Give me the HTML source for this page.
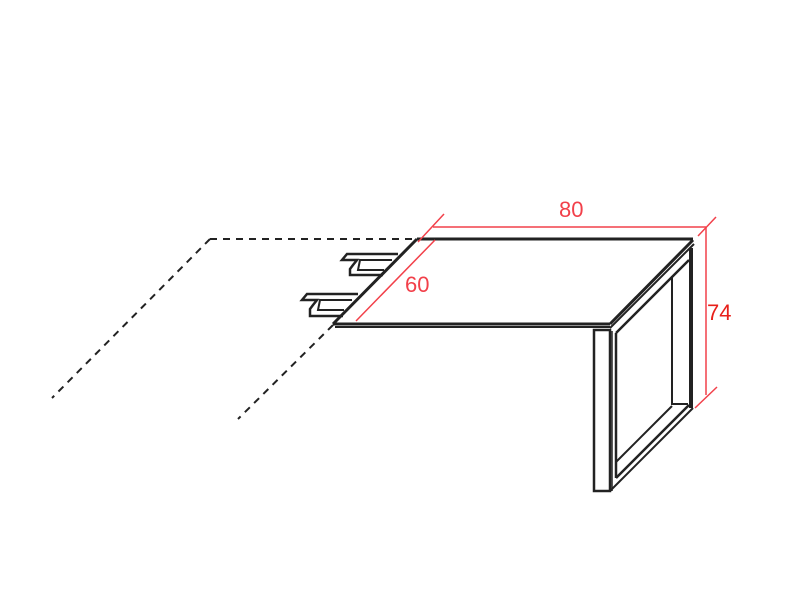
<!DOCTYPE html>
<html><head><style>body{margin:0;background:#fff}svg{display:block}</style></head><body>
<svg width="800" height="600" viewBox="0 0 800 600" xmlns="http://www.w3.org/2000/svg">
<g fill="none" stroke="#222" stroke-width="2" stroke-dasharray="7,6">
<line x1="210" y1="239" x2="417" y2="239"/>
<line x1="210" y1="239" x2="52" y2="398"/>
<line x1="333" y1="325" x2="238" y2="419"/>
</g>
<g fill="none" stroke="#222" stroke-width="3" stroke-linejoin="miter">
<line x1="417" y1="239" x2="693" y2="239"/>
<line x1="417" y1="239" x2="333" y2="324"/>
<line x1="333" y1="324" x2="610" y2="324"/>
<line x1="335" y1="327" x2="610" y2="327" stroke-width="2"/>
<line x1="610" y1="324" x2="693" y2="240"/>
<line x1="610" y1="328" x2="694" y2="244" stroke-width="2"/>
<polyline points="398,254 347,254 342,260 357,260 353,265 350,269 350,275 383,275" stroke-width="2.5"/>
<polyline points="392,260 360,260 358,270 384,270" stroke-width="2"/>
<polyline points="358,294 307,294 302,300 317,300 313,305 310,309 310,316 343,316" stroke-width="2.5"/>
<polyline points="352,300 320,300 318,310 344,310" stroke-width="2"/>
<rect x="594" y="330" width="16" height="161" stroke-width="2.5"/>
<line x1="610" y1="491" x2="693" y2="408" stroke-width="2"/>
<line x1="691" y1="248" x2="691" y2="408" stroke-width="4"/>
<line x1="616" y1="333" x2="616" y2="478" stroke-width="2.5"/>
<line x1="616" y1="333" x2="689" y2="260" stroke-width="2.5"/>
<line x1="616" y1="478" x2="689" y2="405" stroke-width="2.5"/>
<line x1="616" y1="462" x2="672" y2="406" stroke-width="2"/>
<line x1="672" y1="276" x2="672" y2="405" stroke-width="2"/>
<line x1="672" y1="404" x2="688" y2="404" stroke-width="2"/>
<line x1="612" y1="331" x2="612" y2="491" stroke-width="1.5"/>
</g>
<g stroke="#f2404a" stroke-width="1.5" fill="none">
<line x1="433" y1="227" x2="706" y2="227"/>
<line x1="418" y1="242" x2="444" y2="214"/>
<line x1="698" y1="236" x2="716" y2="217"/>
<line x1="706" y1="227" x2="706" y2="395"/>
<line x1="695" y1="408" x2="717" y2="387"/>
<line x1="356" y1="321" x2="435" y2="240"/>
</g>
<g font-family="Liberation Sans, sans-serif" font-size="22" fill="#f2404a">
<text x="559" y="217">80</text>
<text x="405" y="292">60</text>
<text x="707" y="320" fill="#e8201a">74</text>
</g>
</svg>
</body></html>
